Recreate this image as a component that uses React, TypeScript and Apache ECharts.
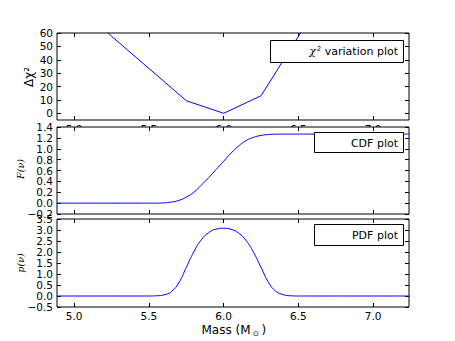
import React, { useEffect, useRef } from 'react';
import * as echarts from 'echarts';

// ---- data ----
const massTicks = [5.0, 5.5, 6.0, 6.5, 7.0];
const chiMass = [5.0, 5.25, 5.5, 5.75, 6.0, 6.25, 6.5, 6.75, 7.0];
const chiValues = [85, 57.6, 33.5, 9.4, 0, 13.1, 57.5, 100, 145];
const chiTicks = [0, 10, 20, 30, 40, 50, 60];
const mass = [4.885, 5.45, 5.5, 5.55, 5.6, 5.65, 5.7, 5.75, 5.8, 5.85, 5.9, 5.95, 6.0,
  6.05, 6.1, 6.15, 6.2, 6.25, 6.3, 6.35, 6.4, 6.45, 6.5, 6.55, 7.24];
const cdfValues = [0, 0, 0, 0, 0.005, 0.02, 0.05, 0.11, 0.2, 0.33, 0.47, 0.62, 0.77,
  0.92, 1.05, 1.15, 1.21, 1.245, 1.262, 1.268, 1.27, 1.27, 1.27, 1.27, 1.27];
const pdfValues = [0, 0, 0, 0.01, 0.05, 0.2, 0.6, 1.3, 2.0, 2.55, 2.88, 3.04, 3.08,
  3.03, 2.86, 2.52, 1.98, 1.3, 0.62, 0.21, 0.06, 0.01, 0, 0, 0];
const cdfTicks = [-0.2, 0, 0.2, 0.4, 0.6, 0.8, 1.0, 1.2, 1.4];
const pdfTicks = [-0.5, 0, 0.5, 1.0, 1.5, 2.0, 2.5, 3.0, 3.5];

const X_MIN = 4.885;
const X_MAX = 7.24;

const fmt1 = (v: number) => (v < -1e-9 ? '\u2212' : '') + Math.abs(v).toFixed(1);

export default function App() {
  const ref = useRef<HTMLDivElement>(null);
  useEffect(() => {
    if (!ref.current) return;
    const chart = echarts.init(ref.current, undefined, { renderer: 'svg' });
    const grids = [
      { left: 57, top: 33, width: 352, height: 87 },
      { left: 57, top: 127, width: 352, height: 87 },
      { left: 57, top: 219, width: 352, height: 88 },
    ];
    const yCfg = [
      { min: -5, max: 60, ticks: chiTicks, fmt: (v: number) => String(v) },
      { min: -0.2, max: 1.4, ticks: cdfTicks, fmt: fmt1 },
      { min: -0.5, max: 3.5, ticks: pdfTicks, fmt: fmt1 },
    ];
    const tick = (vals: number[]) => ({
      show: true, inside: true, length: 4, customValues: vals,
      lineStyle: { color: '#000', width: 1 },
    });
    const labelFont = { fontSize: 10.5, color: '#000', fontFamily: 'DejaVu Sans' };
    const noLine = { show: false, onZero: false };
    const xAxes: any[] = [];
    const yAxes: any[] = [];
    grids.forEach((g, i) => {
      const z = 3 * i + 1;
      xAxes.push({
        type: 'value', gridIndex: i, min: X_MIN, max: X_MAX, position: 'bottom', z,
        axisLine: noLine, splitLine: { show: false },
        axisTick: tick(massTicks),
        axisLabel: { ...labelFont, customValues: massTicks, margin: 3, formatter: (v: number) => v.toFixed(1) },
      });
      xAxes.push({
        type: 'value', gridIndex: i, min: X_MIN, max: X_MAX, position: 'top', z,
        axisLine: noLine, splitLine: { show: false },
        axisTick: tick(massTicks), axisLabel: { show: false },
      });
      const c = yCfg[i];
      yAxes.push({
        type: 'value', gridIndex: i, min: c.min, max: c.max, position: 'left', z,
        axisLine: noLine, splitLine: { show: false },
        axisTick: tick(c.ticks),
        axisLabel: { ...labelFont, customValues: c.ticks, margin: 4, formatter: c.fmt },
      });
      yAxes.push({
        type: 'value', gridIndex: i, min: c.min, max: c.max, position: 'right', z,
        axisLine: noLine, splitLine: { show: false },
        axisTick: tick(c.ticks), axisLabel: { show: false },
      });
    });
    const lineBase = {
      type: 'line', showSymbol: false, symbol: 'none',
      lineStyle: { color: '#0000ff', width: 1 }, itemStyle: { color: '#0000ff' },
      clip: true,
    };
    const txt = (text: string, x: number, y: number, extra: any = {}, rot = 0) => ({
      type: 'text', x, y, rotation: rot, z: 50,
      style: {
        text, fill: '#000', fontFamily: 'DejaVu Sans', fontSize: 12,
        align: 'center', verticalAlign: 'middle', ...extra,
      },
    });
    const box = (x: number, y: number, w: number, h: number) => ({
      type: 'rect', z: 49, shape: { x: x + 0.5, y: y + 0.5, width: w, height: h },
      style: { fill: '#fff', stroke: '#000', lineWidth: 1 },
    });
    chart.setOption({
      animation: false,
      grid: grids.map((g, i) => ({
        ...g, show: true, backgroundColor: '#fff', borderColor: '#000', borderWidth: 1, z: 3 * i,
      })),
      xAxis: xAxes,
      yAxis: yAxes,
      series: [
        { ...lineBase, xAxisIndex: 0, yAxisIndex: 0, z: 2, data: chiMass.map((m, k) => [m, chiValues[k]]) },
        { ...lineBase, xAxisIndex: 2, yAxisIndex: 2, z: 5, smooth: 0.5, data: mass.map((m, k) => [m, cdfValues[k]]) },
        { ...lineBase, xAxisIndex: 4, yAxisIndex: 4, z: 8, smooth: 0.5, data: mass.map((m, k) => [m, pdfValues[k]]) },
      ],
      graphic: [
        box(270, 40, 133, 22),
        {
          type: 'text', x: 398, y: 51.5, z: 50,
          style: {
            text: '{c|\u03c7}{s|2}{n| variation plot}', align: 'right', verticalAlign: 'middle',
            rich: {
              c: { fontFamily: 'DejaVu Serif', fontStyle: 'italic', fontSize: 11, fill: '#000' },
              s: { fontFamily: 'DejaVu Sans', fontSize: 7, fill: '#000', padding: [0, 0, 6, 1] },
              n: { fontFamily: 'DejaVu Sans', fontSize: 11, fill: '#000' },
            },
          },
        },
        box(314, 132, 89, 20),
        txt('CDF plot', 398, 143, { align: 'right', fontSize: 11 }),
        box(314, 224, 89, 21),
        txt('PDF plot', 398, 235, { align: 'right', fontSize: 11 }),
        txt('\u0394\u03c7\u00b2', 29, 77, { fontSize: 12 }, Math.PI / 2),
        txt('F(\u03bd)', 20, 169, { fontSize: 9.5, fontFamily: 'DejaVu Serif', fontStyle: 'italic' }, Math.PI / 2),
        txt('p(\u03bd)', 20, 263, { fontSize: 9.5, fontFamily: 'DejaVu Serif', fontStyle: 'italic' }, Math.PI / 2),
        txt('Mass (M', 250.5, 330, { align: 'right', fontSize: 12 }),
        txt('\u2299', 256, 333.5, { fontSize: 7.5 }),
        txt(')', 261.5, 330, { align: 'left', fontSize: 12 }),
      ],
    });
    return () => chart.dispose();
  }, []);
  return (
    <div
      ref={ref}
      style={{ position: 'absolute', left: 0, top: 0, width: 455, height: 341, background: '#fff' }}
    />
  );
}
